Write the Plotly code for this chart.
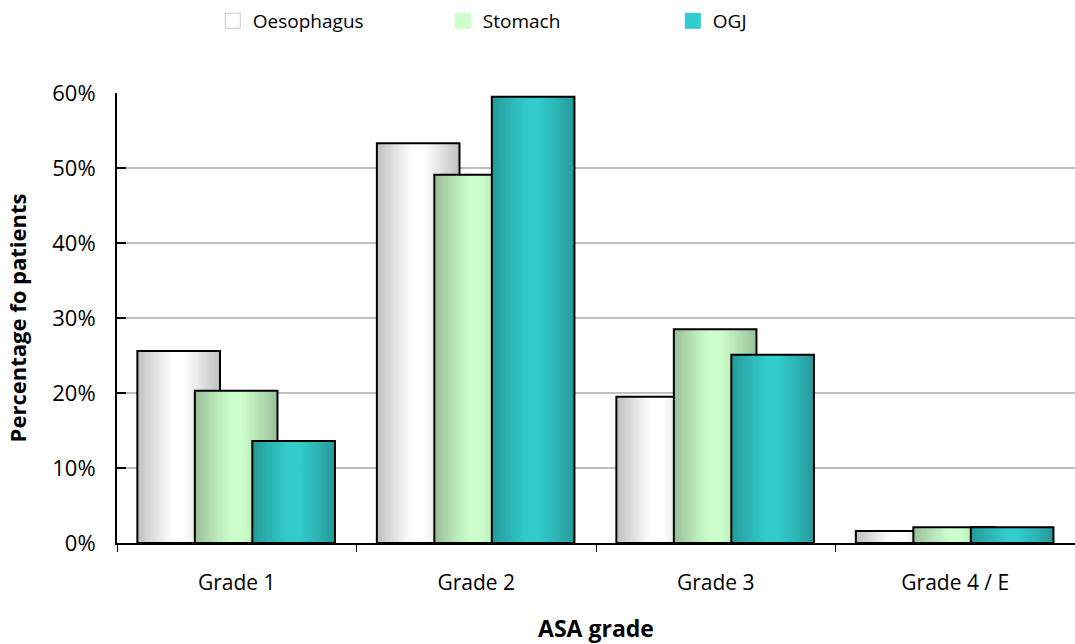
import plotly.graph_objects as go

# ASA grade distribution by tumour site (percentage of patients)
grades = ["Grade 1", "Grade 2", "Grade 3", "Grade 4 / E"]
oesophagus = [25.6, 53.3, 19.5, 1.6]
stomach = [20.3, 49.1, 28.5, 2.1]
ogj = [13.6, 59.5, 25.1, 2.1]

series = [
    ("Oesophagus", oesophagus, (255, 255, 255), "#c8c8c8"),
    ("Stomach", stomach, (204, 255, 204), None),
    ("OGJ", ogj, (51, 204, 204), None),
]

BAR_W = 0.345           # bar width in category units
STEP = 0.24             # shift between overlapping bars of a group
START = -0.415          # left edge of the first bar relative to the category centre
N_STRIPS = 30           # vertical strips used to shade each bar

FONT = "Open Sans"


def shade(rgb, t):
    """Cylinder-like horizontal shading: darker at both edges, light near the middle."""
    d = abs(t - 0.5) / 0.5
    d = max(0.0, (d - 0.12) / 0.88) ** 1.1
    k = 1.0 - 0.25 * d
    return "rgb({},{},{})".format(*(int(round(c * k)) for c in rgb))


fig = go.Figure()

for i, (name, vals, rgb, legend_line) in enumerate(series):
    left = START + i * STEP
    sw = BAR_W / N_STRIPS
    for s in range(N_STRIPS):
        t = (s + 0.5) / N_STRIPS
        fig.add_trace(go.Bar(
            x=grades, y=vals,
            offset=left + s * sw, width=min(sw * 1.3, BAR_W - s * sw),
            marker=dict(color=shade(rgb, t), line=dict(width=0)),
            showlegend=False, hoverinfo="skip",
        ))
    # outline of each bar
    fig.add_trace(go.Bar(
        x=grades, y=vals, offset=left, width=BAR_W, name=name,
        marker=dict(color="rgba(0,0,0,0)", line=dict(color="black", width=2)),
        showlegend=False,
    ))
    # legend swatch
    fig.add_trace(go.Scatter(
        x=[grades[0]], y=[None], name=name, mode="markers",
        marker=dict(symbol="square", size=15,
                    color="rgb({},{},{})".format(*rgb),
                    line=dict(color=legend_line or "rgb({},{},{})".format(*rgb), width=1)),
        showlegend=True,
    ))

fig.update_layout(
    width=1075, height=644,
    margin=dict(l=117, r=0, t=93, b=101),
    barmode="overlay",
    plot_bgcolor="white", paper_bgcolor="white",
    font=dict(family=FONT, size=21, color="black"),
    legend=dict(
        orientation="h", x=0.1, y=0.997, xref="paper", yref="container",
        xanchor="left", yanchor="top",
        entrywidth=185, entrywidthmode="pixels",
        font=dict(size=19), itemwidth=30,
        bgcolor="rgba(0,0,0,0)",
    ),
    xaxis=dict(
        showline=True, linecolor="black", linewidth=2,
        ticks="outside", ticklen=7, tickcolor="black", tickwidth=1,
        tickson="boundaries",
        tickfont=dict(size=21), ticklabelstandoff=20,
        title=dict(text="<b>ASA grade</b>", font=dict(size=23), standoff=28),
    ),
    yaxis=dict(
        range=[0, 60], dtick=10, ticksuffix="%",
        showline=True, linecolor="black", linewidth=2,
        ticks="inside", ticklen=9, tickcolor="black", tickwidth=1.5,
        showgrid=True, gridcolor="#c0c0c0", gridwidth=1.5,
        tickfont=dict(size=22), ticklabelstandoff=15,
        title=dict(text="<b>Percentage fo patients</b>", font=dict(size=22), standoff=20),
        zeroline=False,
    ),
)

fig.write_html("out.html")
